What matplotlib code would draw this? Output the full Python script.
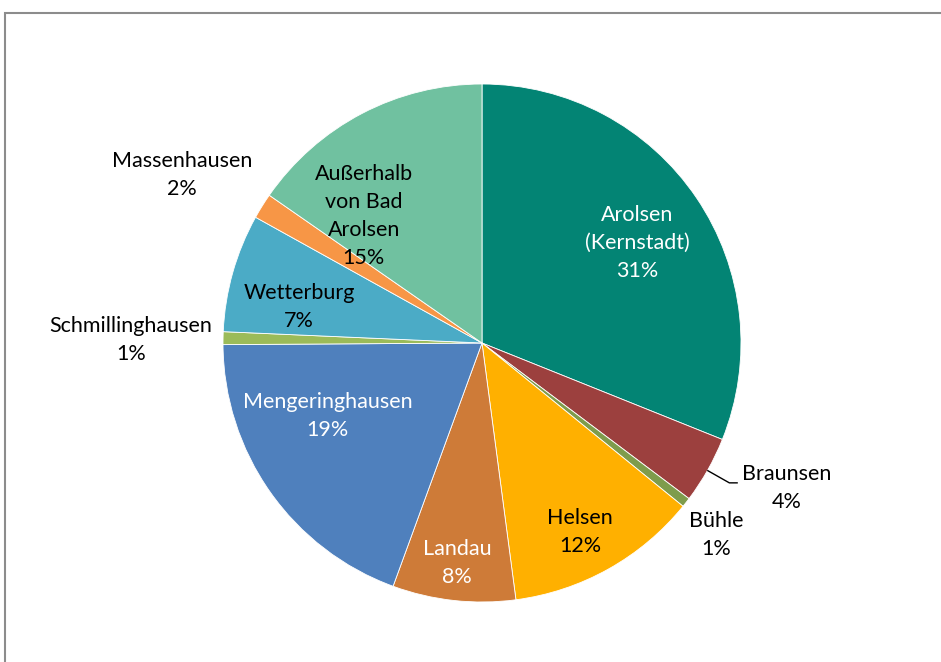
import matplotlib.pyplot as plt
from matplotlib.patches import Rectangle

plt.rcParams['font.family'] = ['Lato', 'DejaVu Sans']

# shares in percent, clockwise from 12 o'clock
names = ['Arolsen\n(Kernstadt)', 'Braunsen', 'Bühle', 'Helsen', 'Landau',
         'Mengeringhausen', 'Schmillinghausen', 'Wetterburg', 'Massenhausen',
         'Außerhalb\nvon Bad\nArolsen']
shares = [31.2, 4.2, 0.6, 12.1, 7.7, 19.4, 0.8, 7.4, 1.6, 15.4]
colors = ['#038474', '#9C403E', '#7E9C4C', '#FFB000', '#CE7B38',
          '#4F80BD', '#9BBB59', '#4BABC6', '#F79646', '#70C1A0']
text_colors = ['white', 'black', 'black', 'black', 'white',
               'white', 'black', 'black', 'black', 'black']
# label centres (axes data units, radius 1)
label_pos = [(0.598, 0.386), (1.178, -0.560), (0.903, -0.741), (0.378, -0.730),
             (-0.097, -0.849), (-0.595, -0.282), (-1.355, 0.012), (-0.707, 0.139),
             (-1.158, 0.649), (-0.456, 0.490)]

fig = plt.figure(figsize=(9.41, 6.62), dpi=100)
fig.patches.append(Rectangle((5 / 941, -0.1), 1.1, (662 - 13) / 662 + 0.1,
                             transform=fig.transFigure, fill=False,
                             edgecolor='#8c8c8c', linewidth=1.5))

cx, cy, r = 482, 343, 259
ax = fig.add_axes([(cx - r) / 941, (662 - cy - r) / 662, 2 * r / 941, 2 * r / 662])
wedges, _ = ax.pie(shares, colors=colors, startangle=90, counterclock=False,
                   radius=1, wedgeprops=dict(linewidth=0.6, edgecolor='white'))
ax.set_xlim(-1, 1)
ax.set_ylim(-1, 1)
ax.set_aspect('equal')
ax.axis('off')

total = sum(shares)
for name, val, tc, (x, y) in zip(names, shares, text_colors, label_pos):
    ax.text(x, y, '%s\n%.0f%%' % (name, val / total * 100), ha='center',
            va='center', color=tc, fontsize=15.5, linespacing=1.5, clip_on=False)

# leader line for Braunsen
ax.plot([0.872, 0.955, 0.985], [-0.493, -0.540, -0.540], color='black',
        linewidth=1, clip_on=False)

fig.savefig('out.png', dpi=100)
